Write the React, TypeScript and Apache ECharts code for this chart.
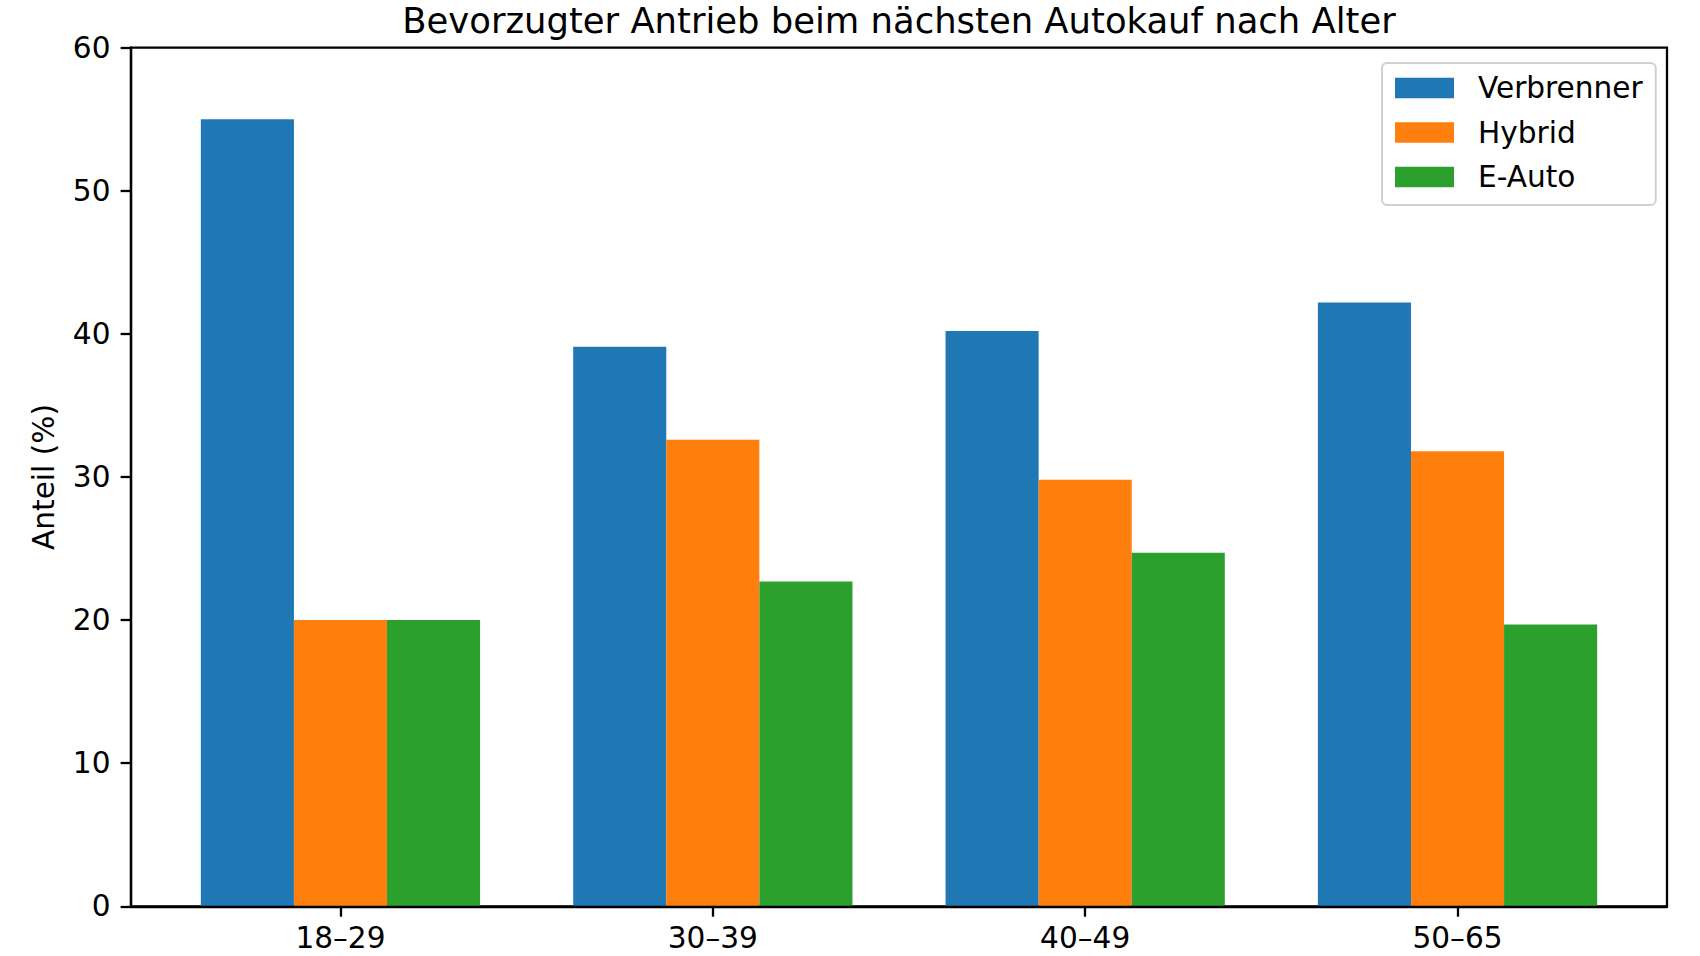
import React, { useEffect, useRef } from "react";
import * as echarts from "echarts";

const categories = ["18–29", "30–39", "40–49", "50–65"];
const seriesNames = ["Verbrenner", "Hybrid", "E-Auto"];
const verbrenner = [55.0, 39.1, 40.2, 42.2];
const hybrid = [20.0, 32.6, 29.8, 31.8];
const eAuto = [20.0, 22.7, 24.7, 19.7];
const colors = ["#1f77b4", "#ff7f0e", "#2ca02c"];
const yTicks = { min: 0, max: 60, interval: 10 };

const FONT = "DejaVu Sans";

export default function App() {
  const ref = useRef<HTMLDivElement>(null);
  useEffect(() => {
    if (!ref.current) return;
    const chart = echarts.init(ref.current, undefined, { renderer: "svg" });
    const values = [verbrenner, hybrid, eAuto];
    const tickFont = { fontFamily: FONT, fontSize: 29.6, color: "#000" };
    chart.setOption({
      animation: false,
      backgroundColor: "#fff",
      textStyle: { fontFamily: FONT },
      title: {
        text: "Bevorzugter Antrieb beim nächsten Autokauf nach Alter",
        left: 899,
        textAlign: "center",
        top: 3,
        padding: 0,
        textStyle: { fontFamily: FONT, fontSize: 35.4, lineHeight: 35, fontWeight: "normal", color: "#000" },
      },
      legend: {
        data: seriesNames,
        orient: "vertical",
        left: 1382,
        top: 63,
        padding: [10, 13, 13, 13],
        itemWidth: 59,
        itemHeight: 20.7,
        itemGap: 14.5,
        icon: "rect",
        backgroundColor: "#fff",
        borderColor: "#d0d0d0",
        borderWidth: 2,
        borderRadius: 5,
        textStyle: { ...tickFont, padding: [0, 0, 0, 19] },
      },
      grid: [
        { left: 154.3, right: 56.3, top: 47.7, bottom: 49.7 },
        {
          left: 131,
          right: 33,
          top: 47.7,
          bottom: 49.7,
          show: true,
          borderColor: "#000",
          borderWidth: 2.3,
          backgroundColor: "transparent",
        },
      ],
      xAxis: [
        {
          type: "category",
          gridIndex: 0,
          data: categories,
          axisLine: { show: false },
          axisTick: { show: true, alignWithLabel: true, length: 10.4, lineStyle: { color: "#000", width: 2.3 } },
          axisLabel: { ...tickFont, lineHeight: 26, margin: 19 },
          splitLine: { show: false },
        },
        {
          type: "value",
          gridIndex: 1,
          min: 0,
          max: 1,
          z: 10,
          axisLine: { show: true, lineStyle: { color: "#000", width: 2.3 } },
          axisTick: { show: false },
          axisLabel: { show: false },
          splitLine: { show: false },
        },
      ],
      yAxis: [
        {
          type: "value",
          gridIndex: 0,
          min: yTicks.min,
          max: yTicks.max,
          interval: yTicks.interval,
          show: false,
        },
        {
          type: "value",
          gridIndex: 1,
          min: yTicks.min,
          max: yTicks.max,
          interval: yTicks.interval,
          z: 10,
          name: "Anteil (%)",
          nameLocation: "middle",
          nameGap: 72,
          nameTextStyle: { ...tickFont },
          axisLine: { show: true, lineStyle: { color: "#000", width: 2.3 } },
          axisTick: { show: true, length: 10.4, lineStyle: { color: "#000", width: 2.3 } },
          axisLabel: { ...tickFont, margin: 20.5 },
          splitLine: { show: false },
        },
      ],
      series: seriesNames.map((name, i) => ({
        name,
        type: "bar",
        xAxisIndex: 0,
        yAxisIndex: 0,
        data: values[i],
        barWidth: "25%",
        barGap: "0%",
        itemStyle: { color: colors[i] },
      })),
    });
    return () => chart.dispose();
  }, []);
  return (
    <div
      ref={ref}
      style={{ position: "absolute", left: 0, top: 0, width: 1700, height: 956 }}
    />
  );
}
